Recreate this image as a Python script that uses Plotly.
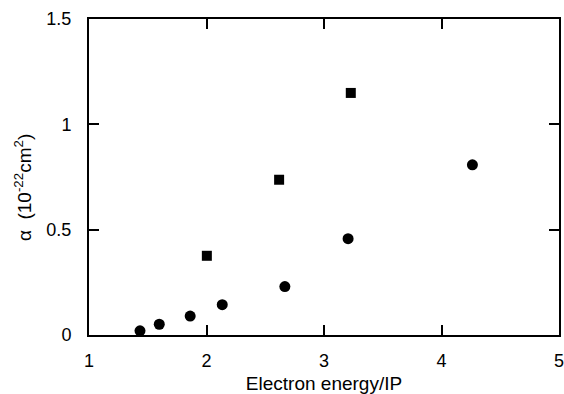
import plotly.graph_objects as go

circle_x = [1.434, 1.598, 1.861, 2.134, 2.667, 3.205, 4.263]
circle_y = [0.02, 0.051, 0.09, 0.144, 0.23, 0.457, 0.808]
square_x = [2.003, 2.618, 3.228]
square_y = [0.376, 0.737, 1.149]

x_ticks = [1, 2, 3, 4, 5]
y_ticks = [0, 0.5, 1, 1.5]
y_labels = ["0", "0.5", "1", "1.5"]

fig = go.Figure()
fig.add_trace(go.Scatter(x=circle_x, y=circle_y, mode="markers",
                         marker=dict(symbol="circle", size=11, color="black"),
                         showlegend=False, cliponaxis=False))
fig.add_trace(go.Scatter(x=square_x, y=square_y, mode="markers",
                         marker=dict(symbol="square", size=10, color="black"),
                         showlegend=False, cliponaxis=False))

tick_font = dict(family="Liberation Sans, Arial, sans-serif", size=18, color="black")
title_font = dict(family="Liberation Sans, Arial, sans-serif", size=19, color="black")
fig.update_layout(
    width=564, height=394,
    margin=dict(l=89, r=5, t=19, b=59, autoexpand=False),
    paper_bgcolor="white", plot_bgcolor="white",
    font=tick_font,
    xaxis=dict(range=[1, 5], tickvals=x_ticks, ticks="inside", ticklen=10, tickwidth=2,
               tickcolor="black", showline=True, linewidth=2, linecolor="black",
               mirror="allticks", showgrid=False, zeroline=False, automargin=False,
               ticklabelstandoff=8, tickfont=tick_font, ticklabeloverflow="allow",
               title=dict(text="Electron energy/IP", standoff=8, font=title_font)),
    yaxis=dict(range=[0, 1.5], tickvals=y_ticks, ticktext=y_labels, ticks="inside",
               ticklen=10, tickwidth=2, tickcolor="black", showline=True, linewidth=2,
               linecolor="black", mirror="allticks", showgrid=False, zeroline=False,
               automargin=False, ticklabelstandoff=12, tickfont=tick_font,
               ticklabeloverflow="allow"),
    annotations=[dict(text="α  (10<sup>-22</sup>cm<sup>2</sup>)", textangle=-90,
                      xref="paper", yref="paper", x=-0.1404, y=0.465,
                      xanchor="center", yanchor="middle", showarrow=False,
                      font=title_font)],
)

fig.write_html("out.html", config={"displayModeBar": False},
               post_script="document.body.style.margin='0';document.body.style.overflow='hidden';")
